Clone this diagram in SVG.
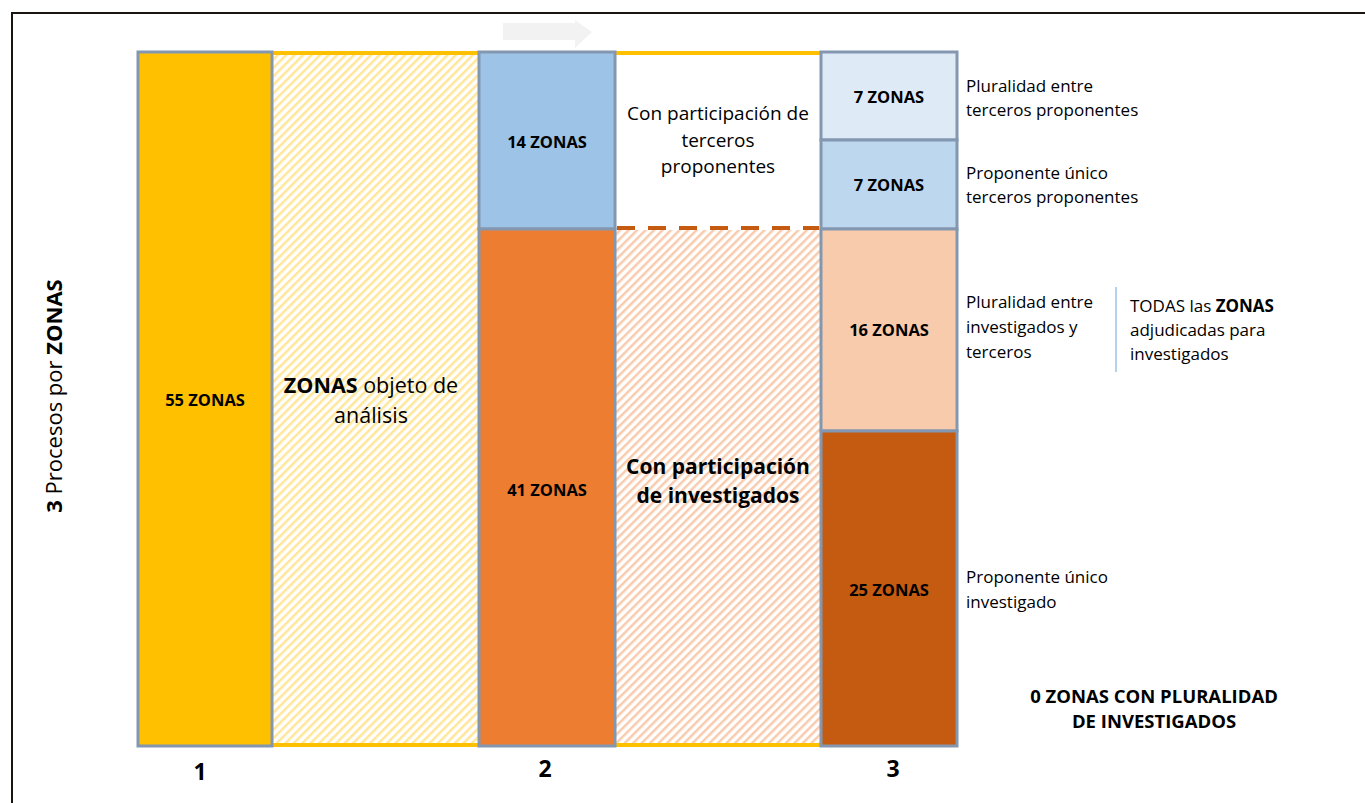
<svg xmlns="http://www.w3.org/2000/svg" width="1365" height="803" viewBox="0 0 1365 803">
<defs>
<pattern id="hatchY" patternUnits="userSpaceOnUse" width="6" height="6" patternTransform="rotate(45)">
<rect width="6" height="6" fill="#ffffff"/>
<rect x="0" y="0" width="2.5" height="6" fill="#FFE699"/>
</pattern>
<pattern id="hatchO" patternUnits="userSpaceOnUse" width="6" height="6" patternTransform="rotate(45)">
<rect width="6" height="6" fill="#ffffff"/>
<rect x="0" y="0" width="2.5" height="6" fill="#F8CBAD"/>
</pattern>
<style>
.box{stroke:#8497B0;stroke-width:3}
.t{font-family:"Open Sans","Liberation Sans",Arial,sans-serif;fill:#000}
.lbl{font-size:16.5px;font-weight:bold;text-anchor:middle}
.side{font-size:17px}
.num{font-size:23px;font-weight:bold;text-anchor:middle}
</style>
</defs>
<rect width="1365" height="803" fill="#ffffff"/>
<path d="M12,803 V13 H1365" fill="none" stroke="#1a1510" stroke-width="2"/>

<g id="connectors">
<path d="M272,53 H820" stroke="#FFC000" stroke-width="4"/>
<path d="M272,745 H958" stroke="#FFC000" stroke-width="4"/>
<polygon points="503,23 575,23 575,20 592,32 575,48 575,40 503,40" fill="#f2f2f2"/>
<path d="M617,228 H819" stroke="#C55A11" stroke-width="4" stroke-dasharray="18,13"/>
<path d="M1116,287 V372" stroke="#9DC3E6" stroke-width="1.5"/>
</g>

<g id="hatch1"><rect x="272" y="55" width="206" height="688" fill="url(#hatchY)"/></g>
<g id="hatch2"><rect x="616" y="230" width="204" height="513" fill="url(#hatchO)"/></g>

<g id="col1"><rect class="box" x="138" y="52" width="134" height="694" fill="#FFC000"/>
<text class="t lbl" x="205" y="406">55 ZONAS</text></g>

<g id="col2a"><rect class="box" x="479" y="52" width="136" height="177" fill="#9DC3E6"/>
<text class="t lbl" x="547" y="148">14 ZONAS</text></g>
<g id="col2b"><rect class="box" x="479" y="229" width="136" height="517" fill="#ED7D31"/>
<text class="t lbl" x="547" y="496">41 ZONAS</text></g>

<g id="col3a"><rect class="box" x="821" y="52" width="136" height="88" fill="#DEEBF7"/>
<text class="t lbl" x="889" y="103">7 ZONAS</text></g>
<g id="col3b"><rect class="box" x="821" y="140" width="136" height="89" fill="#BDD7EE"/>
<text class="t lbl" x="889" y="191">7 ZONAS</text></g>
<g id="col3c"><rect class="box" x="821" y="229" width="136" height="202" fill="#F8CBAD"/>
<text class="t lbl" x="889" y="336">16 ZONAS</text></g>
<g id="col3d"><rect class="box" x="821" y="431" width="136" height="315" fill="#C55A11"/>
<text class="t lbl" x="889" y="596">25 ZONAS</text></g>

<g id="txt-objeto">
<text class="t" font-size="21.5" text-anchor="middle" x="371" y="393"><tspan font-weight="bold">ZONAS</tspan> objeto de</text>
<text class="t" font-size="21.5" text-anchor="middle" x="371" y="423">análisis</text>
</g>
<g id="txt-terceros">
<text class="t" font-size="19" text-anchor="middle" x="718" y="120">Con participación de</text>
<text class="t" font-size="19" text-anchor="middle" x="718" y="147">terceros</text>
<text class="t" font-size="19" text-anchor="middle" x="718" y="173">proponentes</text>
</g>
<g id="txt-investigados">
<text class="t" font-size="21" font-weight="bold" text-anchor="middle" x="718" y="474">Con participación</text>
<text class="t" font-size="21" font-weight="bold" text-anchor="middle" x="718" y="503">de investigados</text>
</g>

<g id="side-labels">
<text class="t side" x="966" y="92">Pluralidad entre</text>
<text class="t side" x="966" y="116">terceros proponentes</text>
<text class="t side" x="966" y="179">Proponente único</text>
<text class="t side" x="966" y="203">terceros proponentes</text>
<text class="t side" x="966" y="308">Pluralidad entre</text>
<text class="t side" x="966" y="333">investigados y</text>
<text class="t side" x="966" y="358">terceros</text>
<text class="t side" x="966" y="583">Proponente único</text>
<text class="t side" x="966" y="608">investigado</text>
</g>
<g id="todas">
<text class="t side" x="1130" y="312">TODAS las  <tspan font-weight="bold">ZONAS</tspan></text>
<text class="t side" x="1130" y="336">adjudicadas para</text>
<text class="t side" x="1130" y="360">investigados</text>
</g>
<g id="cero">
<text class="t" font-size="18.5" font-weight="bold" text-anchor="middle" x="1154" y="703">0 ZONAS CON PLURALIDAD</text>
<text class="t" font-size="18.5" font-weight="bold" text-anchor="middle" x="1154" y="728">DE INVESTIGADOS</text>
</g>
<g id="numbers">
<text class="t num" x="200" y="780">1</text>
<text class="t num" x="545" y="777">2</text>
<text class="t num" x="893" y="777">3</text>
</g>
<g id="axis-title">
<text class="t" font-size="22" text-anchor="middle" transform="translate(62,396) rotate(-90)"><tspan font-weight="bold">3</tspan> Procesos por <tspan font-weight="bold">ZONAS</tspan></text>
</g>
</svg>
